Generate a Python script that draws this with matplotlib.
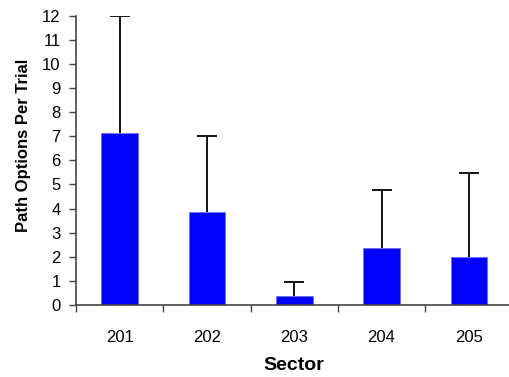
import matplotlib
matplotlib.use("Agg")
import matplotlib.pyplot as plt
from matplotlib.ticker import FixedLocator, MultipleLocator
import numpy as np

plt.rcParams['font.family'] = ['Liberation Sans', 'DejaVu Sans']

sectors = ['201', '202', '203', '204', '205']
means = [7.15, 3.85, 0.36, 2.38, 1.98]
upper_err = [4.85, 3.15, 0.59, 2.40, 3.50]

fig = plt.figure(figsize=(5.09, 3.77), dpi=100)
# axes run a bit past the right edge, like the original layout
ax = fig.add_axes([76 / 509, 72 / 377, 436.5 / 509, 289.3 / 377])

x = np.arange(len(sectors))
ax.bar(x, means, width=0.42, color='#0000ff', edgecolor='#6f6fff', linewidth=0.6, zorder=2)
eb = ax.errorbar(x, means, yerr=[np.zeros(len(means)), upper_err], fmt='none',
                 ecolor='black', elinewidth=1.3, capsize=7, capthick=1.3, zorder=3)
# only the upper caps are wanted
eb[1][0].set_visible(False)

ax.set_xlim(-0.5, 4.5)
ax.set_ylim(0, 12)
ax.yaxis.set_major_locator(MultipleLocator(1))
ax.set_xticks(x)
ax.set_xticklabels(sectors)
ax.xaxis.set_minor_locator(FixedLocator(np.arange(-0.5, 5, 1)))
ax.tick_params(axis='x', which='major', length=0, pad=18, labelsize=12)
ax.tick_params(axis='x', which='minor', length=5, width=1, color='#444444')
ax.tick_params(axis='y', length=5, width=1, color='#444444', labelsize=12, pad=6)

for side in ['top', 'right']:
    ax.spines[side].set_visible(False)
for side in ['left', 'bottom']:
    ax.spines[side].set_color('#444444')
    ax.spines[side].set_linewidth(1.2)

ax.set_xlabel('Sector', fontsize=14, fontweight='bold', labelpad=9)
ax.set_ylabel('Path Options Per Trial', fontsize=12, fontweight='bold')
ax.yaxis.set_label_coords(24 / 509, 232 / 377, transform=fig.transFigure)
ax.yaxis.label.set_va('center')

fig.savefig('out.png', dpi=100)
